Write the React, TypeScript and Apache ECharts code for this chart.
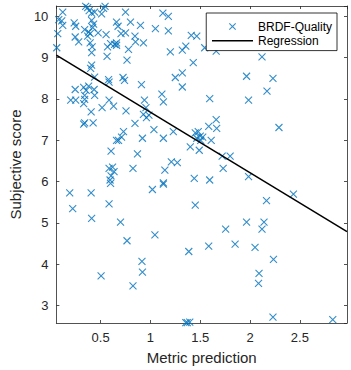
import React, { useEffect, useRef } from 'react';
import * as echarts from 'echarts';

// Scatter data: metric prediction (x) and subjective score (y)
const metricPrediction = [
  0.12, 0.35, 0.37, 0.385, 0.41, 0.44, 0.51, 0.53, 0.545, 0.75,
  0.08, 0.11, 0.12, 0.07, 0.06, 0.235, 0.25, 0.245, 0.28, 0.41,
  0.43, 0.42, 0.34, 0.38, 0.395, 0.37, 0.475, 0.555, 0.57, 0.395,
  0.415, 0.41, 0.6, 0.64, 0.66, 0.66, 0.66, 0.675, 0.705, 0.75,
  0.8, 0.845, 0.85, 0.9, 0.93, 0.78, 0.765, 0.565, 0.41, 0.4,
  0.44, 0.58, 0.585, 0.725, 0.74, 0.91, 0.245, 0.33, 0.355, 0.38,
  0.435, 0.44, 0.34, 0.34, 0.33, 0.2, 0.25, 0.405, 0.34, 0.33,
  0.425, 0.515, 0.585, 0.63, 0.755, 0.94, 0.93, 0.96, 0.985, 0.955,
  0.845, 1.035, 0.92, 1.13, 0.73, 0.71, 0.68, 0.66, 0.605, 0.87,
  0.585, 0.62, 0.635, 0.605, 0.595, 0.825, 1.145, 1.21, 1.27, 1.13,
  0.19, 0.22, 0.405, 0.41, 0.585, 0.6, 0.7, 0.765, 0.915, 0.92,
  0.825, 0.505, 1.02, 1.13, 1.045, 1.355, 1.37, 1.395, 1.45, 1.385,
  1.585, 1.755, 1.85, 1.965, 2.05, 2.09, 2.085, 2.12, 2.14, 2.165,
  2.235, 2.23, 2.435, 2.83, 1.44, 1.595, 1.985, 1.41, 1.465, 1.32,
  1.355, 1.545, 1.66, 1.43, 1.32, 1.32, 1.595, 1.965, 2.23, 2.12,
  1.985, 2.17, 2.29, 1.66, 1.665, 1.585, 1.45, 1.48, 1.5, 1.525,
  1.465, 1.505, 1.61, 1.4, 1.49, 1.72, 1.8, 1.73, 1.05, 1.125,
  1.18, 1.18, 1.2, 1.25, 1.115, 1.13, 1.23,
];
const subjectiveScore = [
  10.1, 10.24, 10.21, 10.14, 10.08, 10.1, 10.06, 10.19, 10.24, 10.1,
  9.92, 9.89, 9.78, 9.58, 9.24, 9.84, 9.76, 9.5, 9.38, 9.9,
  9.81, 9.73, 9.68, 9.62, 9.58, 9.52, 9.6, 9.56, 9.26, 9.36,
  9.26, 9.12, 9.34, 9.32, 9.36, 9.3, 9.86, 9.76, 9.58, 9.6,
  9.86, 9.52, 9.38, 9.78, 9.36, 9.2, 8.94, 9.03, 8.82, 8.74,
  8.53, 8.47, 8.41, 8.52, 8.45, 8.35, 8.23, 8.28, 8.21, 8.31,
  8.23, 8.09, 8.09, 7.99, 7.89, 7.97, 7.97, 7.69, 7.42, 7.39,
  7.42, 7.79, 7.97, 7.83, 7.71, 7.97, 7.63, 7.55, 7.61, 7.79,
  7.41, 7.26, 7.05, 7.05, 7.21, 7.08, 7.0, 7.0, 6.74, 6.67,
  6.32, 6.35, 6.24, 6.14, 6.04, 6.32, 6.28, 6.48, 6.46, 5.97,
  5.73, 5.35, 5.73, 5.11, 5.46, 5.96, 5.02, 4.57, 4.07, 3.81,
  3.48, 3.72, 5.81, 5.94, 4.71, 2.59, 2.59, 2.6, 5.43, 4.31,
  4.44, 4.85, 4.49, 5.02, 4.41, 3.78, 3.54, 4.85, 5.02, 5.54,
  4.12, 2.72, 5.7, 2.66, 6.08, 6.04, 6.12, 9.54, 9.52, 9.18,
  9.28, 9.24, 9.16, 8.88, 8.63, 8.29, 8.01, 8.55, 8.5, 9.02,
  7.97, 8.19, 7.31, 7.5, 7.29, 7.34, 7.18, 7.21, 7.1, 7.08,
  7.05, 7.0, 7.0, 6.84, 6.76, 6.62, 6.62, 6.32, 9.7, 10.08,
  10.0, 9.65, 9.14, 8.52, 8.12, 7.93, 7.21,
];

// Regression line endpoints (at the axis limits)
const regressionX = [0.056, 2.973];
const regressionY = [9.06, 4.79];

const xLimits = [0.056, 2.973];
const yLimits = [2.58, 10.25];

const seriesNames = ['BRDF-Quality', 'Regression'];

export default function App() {
  const ref = useRef<HTMLDivElement>(null);
  useEffect(() => {
    const chart = echarts.init(ref.current!, null, { renderer: 'svg' });
    const font = '"Liberation Sans", Arial, Helvetica, sans-serif';
    const axisColor = '#262626';
    const lineStyle = { color: axisColor, width: 0.8 };
    const baseX = {
      type: 'value',
      min: xLimits[0],
      max: xLimits[1],
      splitNumber: 6,
      minInterval: 0.5,
      maxInterval: 0.5,
      axisLine: { show: true, onZero: false, lineStyle },
      axisTick: { show: true, inside: true, length: 3, lineStyle },
      splitLine: { show: false },
    };
    const baseY = {
      type: 'value',
      min: yLimits[0],
      max: yLimits[1],
      splitNumber: 8,
      minInterval: 1,
      maxInterval: 1,
      axisLine: { show: true, onZero: false, lineStyle },
      axisTick: { show: true, inside: true, length: 3, lineStyle },
      splitLine: { show: false },
    };
    chart.setOption({
      animation: false,
      backgroundColor: '#ffffff',
      textStyle: { fontFamily: font },
      grid: { left: 43, right: 4, top: 6, bottom: 47, containLabel: false },
      legend: {
        orient: 'vertical',
        right: 14,
        top: 13,
        padding: [6, 5, 2, 5],
        itemGap: -1,
        itemWidth: 41,
        itemHeight: 14,
        borderColor: '#000',
        borderWidth: 0.8,
        borderRadius: 0,
        backgroundColor: '#fff',
        textStyle: { fontSize: 12, lineHeight: 14, color: '#000', fontFamily: font },
        itemStyle: { borderWidth: 1.1 },
        data: [
          {
            name: seriesNames[0],
            icon: 'path://M-6,-6M0,0L10,10M10,0L0,10M16,16',
            itemStyle: { color: 'transparent', borderColor: '#0072BD', borderWidth: 1.1 },
          },
          {
            name: seriesNames[1],
            icon: 'path://M0,0M0,7L41,7M41,14',
            itemStyle: { color: 'transparent', borderColor: '#000', borderWidth: 1.5 },
          },
        ],
      },
      xAxis: [
        {
          ...baseX,
          position: 'bottom',
          axisLabel: {
            show: true,
            color: axisColor,
            fontSize: 13,
            fontFamily: font,
            margin: 8,
            showMinLabel: false,
            showMaxLabel: false,
          },
          name: 'Metric prediction',
          nameLocation: 'middle',
          nameGap: 27,
          nameTextStyle: { color: axisColor, fontSize: 15, fontFamily: font },
        },
        { ...baseX, position: 'top', axisLabel: { show: false } },
      ],
      yAxis: [
        {
          ...baseY,
          position: 'left',
          axisLabel: {
            show: true,
            color: axisColor,
            fontSize: 13,
            fontFamily: font,
            margin: 8,
            showMinLabel: false,
            showMaxLabel: false,
          },
          name: 'Subjective score',
          nameLocation: 'middle',
          nameGap: 33,
          nameTextStyle: { color: axisColor, fontSize: 15, fontFamily: font },
        },
        { ...baseY, position: 'right', axisLabel: { show: false } },
      ],
      series: [
        {
          type: 'scatter',
          name: seriesNames[0],
          xAxisIndex: 0,
          yAxisIndex: 0,
          data: metricPrediction.map((x, i) => [x, subjectiveScore[i]]),
          symbol: 'path://M0,0L10,10M10,0L0,10',
          symbolSize: 7,
          itemStyle: { color: 'transparent', borderColor: '#0072BD', borderWidth: 1.1 },
          emphasis: { disabled: true },
        },
        {
          type: 'line',
          name: seriesNames[1],
          xAxisIndex: 0,
          yAxisIndex: 0,
          data: regressionX.map((x, i) => [x, regressionY[i]]),
          symbol: 'none',
          lineStyle: { color: '#000', width: 1.5 },
          itemStyle: { color: '#000' },
          emphasis: { disabled: true },
        },
      ],
    });
    return () => chart.dispose();
  }, []);
  return (
    <div
      ref={ref}
      style={{ position: 'fixed', left: 0, top: 0, width: 351, height: 370 }}
    />
  );
}
